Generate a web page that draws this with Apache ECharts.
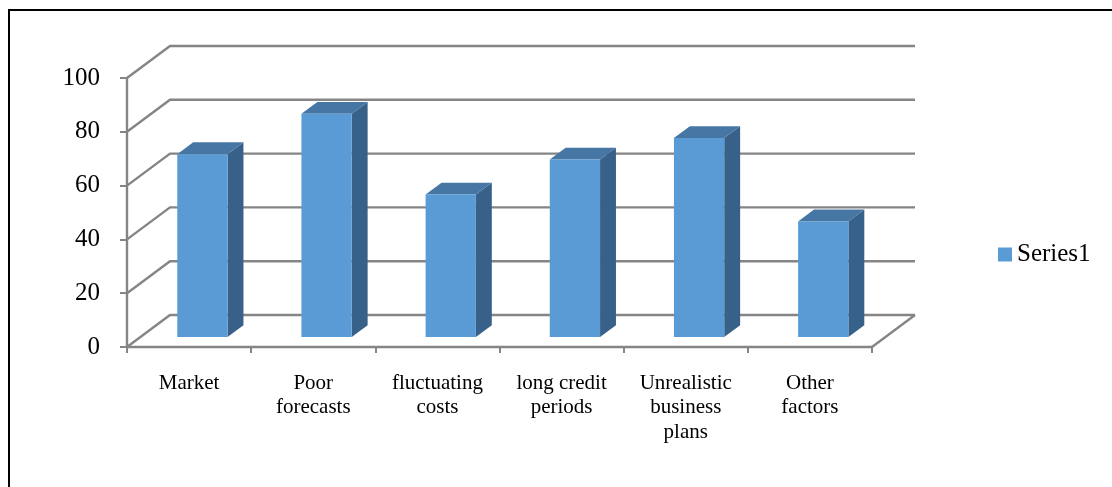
<!DOCTYPE html>
<html>
<head>
<meta charset="utf-8">
<script src="https://cdn.jsdelivr.net/npm/echarts@6.0.0/dist/echarts.min.js"></script>
<style>
  html, body { margin: 0; padding: 0; background: #ffffff; }
  #chart { width: 1112px; height: 487px; }
</style>
</head>
<body>
<div id="chart"></div>
<script>
// Reasons for business failure – scores per factor
const categories = ['Market', 'Poor\nforecasts', 'fluctuating\ncosts', 'long credit\nperiods', 'Unrealistic\nbusiness\nplans', 'Other\nfactors'];
const seriesValues = [68, 83, 53, 66, 74, 43];
const yTicks = [0, 20, 40, 60, 80, 100];
const seriesName = 'Series1';

// Oblique depth of the 3D box (pixels for the full depth of the floor)
const DX = 43, DY = -32;
// Bar placement inside the depth (fraction of full depth)
const Z_FRONT = 0.31, Z_BACK = 0.68;
const BAR_RATIO = 0.405;

const GRID_COLOR = '#858585';
const FRONT = '#5b9bd5', SIDE = '#386189', TOP = '#4576a4';
const FONT = '"Liberation Serif", "DejaVu Serif", serif';

const chart = echarts.init(document.getElementById('chart'), null, { renderer: 'canvas' });

// Back-wall gridlines plus the side-wall diagonals and the right floor edge
function renderFrame(params, api) {
  const v = api.value(1);
  const band = api.size([1, 0])[0];
  const p = api.coord([0, v]);
  const left = p[0] - band / 2;
  const right = api.coord([categories.length - 1, v])[0] + band / 2;
  const y = p[1];
  const children = [{
    type: 'polyline',
    shape: { points: [[left, y], [left + DX, y + DY], [right + DX, y + DY]] },
    style: { stroke: GRID_COLOR, lineWidth: 2.4, fill: null }
  }];
  if (v === 0) {
    children.push({
      type: 'line',
      shape: { x1: right, y1: y, x2: right + DX, y2: y + DY },
      style: { stroke: GRID_COLOR, lineWidth: 2.4 }
    });
  }
  return { type: 'group', children };
}

// Shaded 3D column: front face, right side and top
function renderColumn(params, api) {
  const i = api.value(0);
  const v = api.value(1);
  const band = api.size([1, 0])[0];
  const base = api.coord([i, 0]);
  const topPt = api.coord([i, v]);
  const w = band * BAR_RATIO;
  const fx = base[0] - w / 2 + Z_FRONT * DX;
  const fyb = base[1] + Z_FRONT * DY;
  const fyt = topPt[1] + Z_FRONT * DY;
  const ddx = (Z_BACK - Z_FRONT) * DX;
  const ddy = (Z_BACK - Z_FRONT) * DY;
  return {
    type: 'group',
    children: [
      {
        type: 'polygon',
        shape: { points: [[fx + w, fyb], [fx + w, fyt], [fx + w + ddx, fyt + ddy], [fx + w + ddx, fyb + ddy]] },
        style: { fill: SIDE }
      },
      {
        type: 'polygon',
        shape: { points: [[fx, fyt], [fx + w, fyt], [fx + w + ddx, fyt + ddy], [fx + ddx, fyt + ddy]] },
        style: { fill: TOP }
      },
      {
        type: 'rect',
        shape: { x: fx, y: fyt, width: w, height: fyb - fyt },
        style: { fill: FRONT }
      }
    ]
  };
}

chart.setOption({
  animation: false,
  backgroundColor: '#ffffff',
  graphic: [{
    type: 'rect',
    shape: { x: 9, y: 10, width: 1200, height: 600 },
    style: { fill: null, stroke: '#000000', lineWidth: 2 },
    z: 100
  }],
  grid: { left: 127, top: 78, width: 745, height: 269, containLabel: false },
  legend: {
    data: [seriesName],
    orient: 'vertical',
    left: 993,
    top: 237,
    icon: 'rect',
    itemWidth: 14,
    itemHeight: 14,
    itemGap: 6,
    textStyle: { fontFamily: FONT, fontSize: 25, color: '#000000' }
  },
  xAxis: {
    type: 'category',
    data: categories,
    boundaryGap: true,
    axisLine: { show: true, lineStyle: { color: GRID_COLOR, width: 2.4 } },
    axisTick: { show: true, length: 6, lineStyle: { color: GRID_COLOR, width: 2 } },
    axisLabel: {
      interval: 0,
      margin: 24,
      fontFamily: FONT,
      fontSize: 21,
      lineHeight: 24.5,
      color: '#000000',
      align: 'center'
    },
    splitLine: { show: false }
  },
  yAxis: {
    type: 'value',
    min: 0,
    max: 100,
    interval: 20,
    axisLine: { show: true, lineStyle: { color: GRID_COLOR, width: 2.4 } },
    axisTick: { show: true, length: 7, lineStyle: { color: GRID_COLOR, width: 2 } },
    axisLabel: { margin: 27, fontFamily: FONT, fontSize: 25, color: '#000000' },
    splitLine: { show: false }
  },
  series: [
    {
      type: 'custom',
      name: 'frame',
      silent: true,
      clip: false,
      renderItem: renderFrame,
      encode: { x: 0, y: 1 },
      data: yTicks.map(v => [0, v]),
      z: 1
    },
    {
      type: 'custom',
      name: seriesName,
      clip: false,
      itemStyle: { color: FRONT },
      renderItem: renderColumn,
      encode: { x: 0, y: 1 },
      data: seriesValues.map((v, i) => [i, v]),
      z: 2
    }
  ]
});
</script>
</body>
</html>
